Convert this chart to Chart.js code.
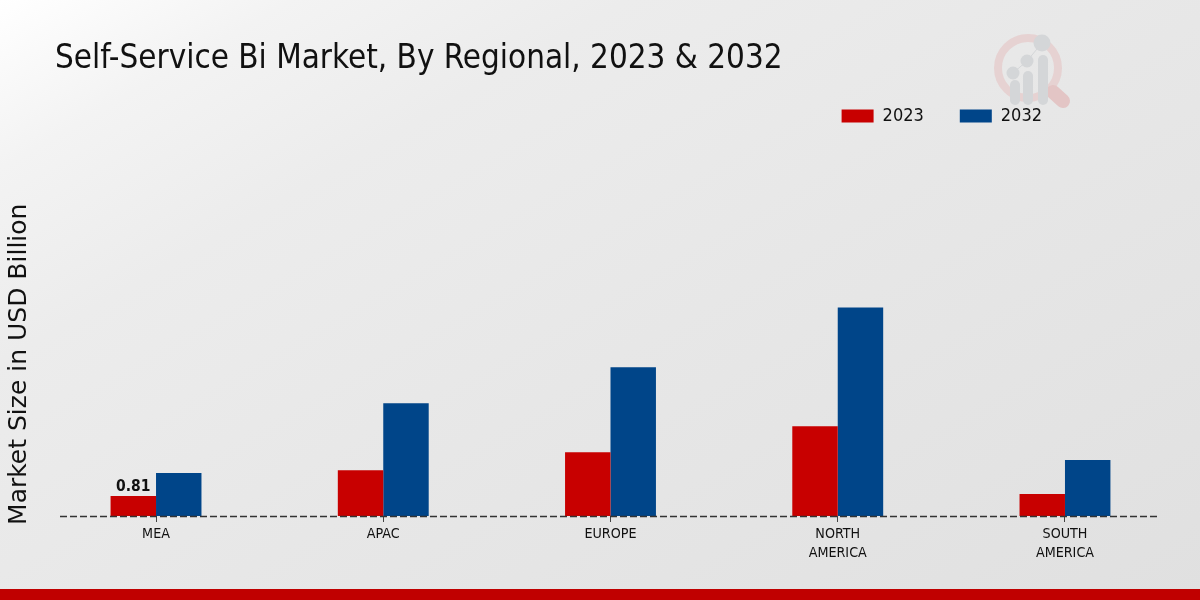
<!DOCTYPE html>
<html>
<head>
<meta charset="utf-8">
<title>Self-Service Bi Market</title>
<script src="https://cdn.jsdelivr.net/npm/chart.js@4"></script>
<style>
  html, body { margin: 0; padding: 0; }
  body {
    width: 1200px; height: 600px; overflow: hidden; position: relative;
    background: linear-gradient(150deg, #ffffff 0%, #f3f3f3 13%, #ececec 28%, #e7e7e7 55%, #e0e0e0 100%);
  }
  #chart { position: absolute; left: 0; top: 0; }
  #logo { position: absolute; left: 0; top: 0; }
  #strip { position: absolute; left: 0; right: 0; top: 589px; height: 11px; background: #c00000; }
</style>
</head>
<body>
<svg id="logo" width="1200" height="130">
  <circle cx="1028" cy="68" r="30" fill="none" stroke="#e6d2d2" stroke-width="8"/>
  <line x1="1053" y1="92" x2="1063" y2="101" stroke="#e3c5c5" stroke-width="14" stroke-linecap="round"/>
  <polyline points="1013,73 1027,61 1042,43" fill="none" stroke="#d4d6d8" stroke-width="1"/>
  <g fill="#d4d6d8">
    <rect x="1010" y="80" width="10" height="25" rx="5"/>
    <rect x="1023" y="71" width="10" height="34" rx="5"/>
    <rect x="1038" y="55" width="10" height="50" rx="5"/>
    <circle cx="1013" cy="73" r="6.5"/>
    <circle cx="1027" cy="61" r="6.5"/>
    <circle cx="1042" cy="43" r="8.5"/>
  </g>
</svg>
<canvas id="chart" width="1200" height="600"></canvas>
<div id="strip"></div>
<script>
// Self-Service Bi Market
const categories = ["MEA", "APAC", "EUROPE", ["NORTH", "AMERICA"], ["SOUTH", "AMERICA"]];
const values2023 = [0.81, 1.86, 2.59, 3.64, 0.89];
const values2032 = [1.74, 4.57, 6.03, 8.46, 2.27];
const labels2023 = ["0.81", "", "", "", ""];

const condensed = "'DejaVu Sans Condensed', 'DejaVu Sans', sans-serif";
const regular = "'DejaVu Sans', sans-serif";

// moves title and legend to where the reference has them, and draws the dashed baseline
const placeBoxes = {
  id: "placeBoxes",
  afterLayout(chart) {
    const t = chart.titleBlock;
    t.left = 55;
    t.right = 1100;
    const l = chart.legend;
    l.left = 700;
    l.right = 1078;
    l.top = 71;
  },
  afterDatasetsDraw(chart) {
    const ctx = chart.ctx;
    const y = Math.round(chart.scales.y.getPixelForValue(0)) + 0.5;
    ctx.save();
    ctx.strokeStyle = "#333333";
    ctx.lineWidth = 1.3;
    ctx.setLineDash([7, 3]);
    ctx.beginPath();
    ctx.moveTo(60, y);
    ctx.lineTo(1160, y);
    ctx.stroke();
    ctx.restore();

    const bars = chart.getDatasetMeta(0).data;
    ctx.save();
    ctx.font = "bold 15.5px " + condensed;
    ctx.fillStyle = "#111111";
    ctx.textAlign = "center";
    ctx.textBaseline = "bottom";
    labels2023.forEach((txt, i) => {
      if (txt) ctx.fillText(txt, bars[i].x, bars[i].y - 1);
    });
    ctx.restore();
  },
};

new Chart(document.getElementById("chart").getContext("2d"), {
  type: "bar",
  data: {
    labels: categories,
    datasets: [
      { label: "2023", data: values2023, backgroundColor: "#c80000" },
      { label: "2032", data: values2032, backgroundColor: "#004589" },
    ],
  },
  options: {
    responsive: false,
    animation: false,
    events: [],
    layout: { padding: { right: 21.4 } },
    datasets: { bar: { categoryPercentage: 0.4, barPercentage: 1 } },
    plugins: {
      tooltip: { enabled: false },
      title: {
        display: true,
        text: "Self-Service Bi Market, By Regional, 2023 & 2032",
        align: "start",
        color: "#111111",
        font: { family: condensed, size: 32.9, weight: "normal" },
        padding: { top: 40, bottom: 69 },
      },
      legend: {
        display: true,
        position: "top",
        align: "end",
        labels: {
          boxWidth: 32,
          boxHeight: 13,
          padding: 36,
          color: "#111111",
          font: { family: condensed, size: 18 },
        },
      },
    },
    scales: {
      x: {
        grid: { offset: false, drawOnChartArea: false, tickLength: 6, tickColor: "#444444" },
        border: { display: false },
        ticks: {
          color: "#111111",
          padding: 3,
          maxRotation: 0,
          autoSkip: false,
          font: { family: condensed, size: 14.2, lineHeight: 1.34 },
        },
        afterFit(scale) { scale.height = 84; },
      },
      y: {
        min: 0,
        max: 12.31,
        grid: { display: false },
        border: { display: false },
        ticks: { display: false },
        title: {
          display: true,
          text: "Market Size in USD Billion",
          color: "#111111",
          font: { family: regular, size: 25, weight: "normal" },
          padding: { top: 4, bottom: 0 },
        },
        afterFit(scale) { scale.width = 42.4; },
      },
    },
  },
  plugins: [placeBoxes],
});
</script>
</body>
</html>
